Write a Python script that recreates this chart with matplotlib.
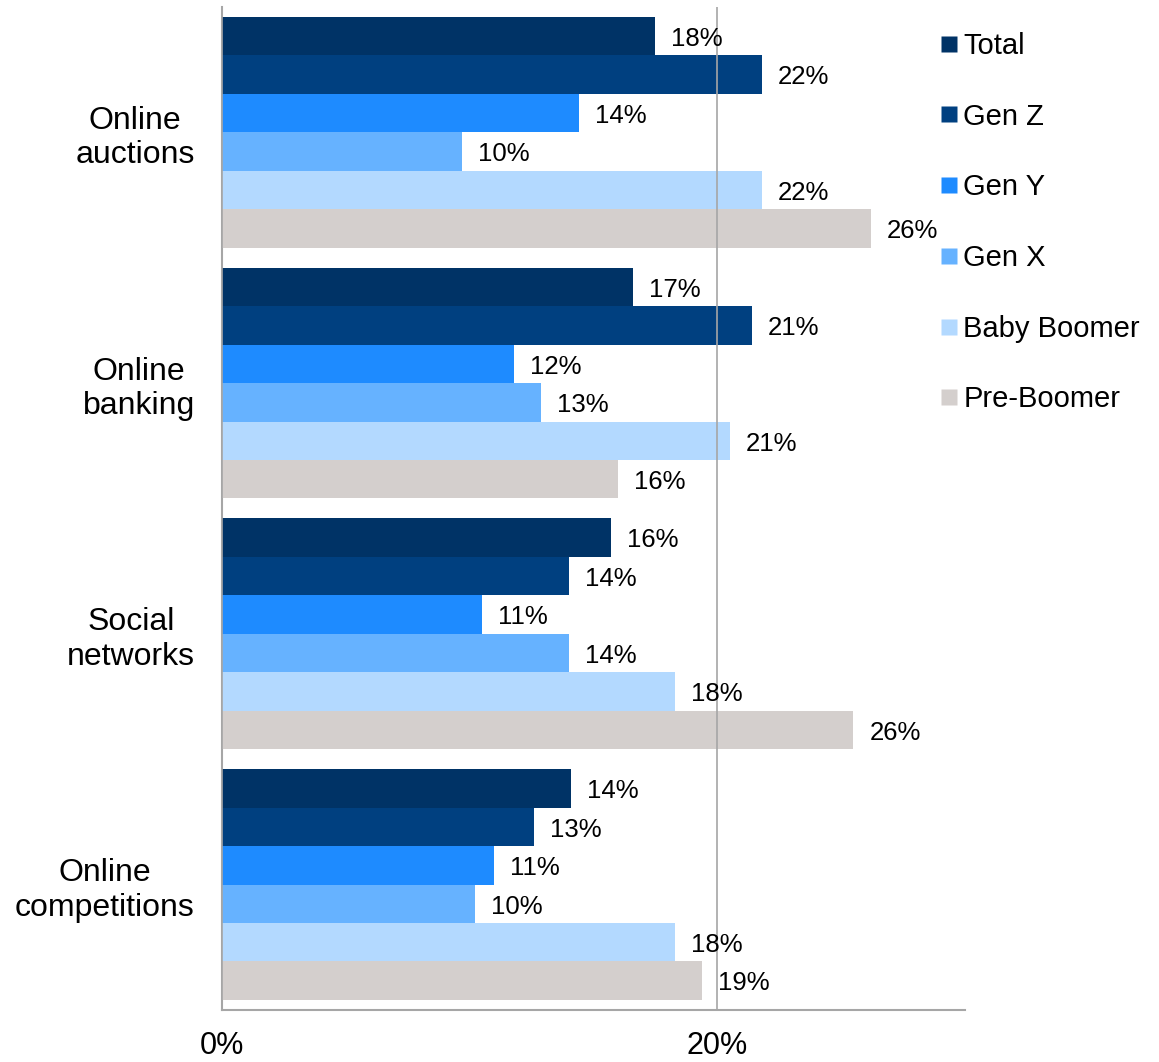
import matplotlib
matplotlib.use("Agg")
import matplotlib.pyplot as plt
from matplotlib.lines import Line2D
import numpy as np

categories = ["Online\nauctions", "Online\nbanking", "Social\nnetworks", "Online\ncompetitions"]
series = ["Total", "Gen Z", "Gen Y", "Gen X", "Baby Boomer", "Pre-Boomer"]
values = {
    "Total":       [17.5, 16.6, 15.7, 14.1],
    "Gen Z":       [21.8, 21.4, 14.0, 12.6],
    "Gen Y":       [14.4, 11.8, 10.5, 11.0],
    "Gen X":       [9.7, 12.9, 14.0, 10.2],
    "Baby Boomer": [21.8, 20.5, 18.3, 18.3],
    "Pre-Boomer":  [26.2, 16.0, 25.5, 19.4],
}
labels = {
    "Total":       ["18%", "17%", "16%", "14%"],
    "Gen Z":       ["22%", "21%", "14%", "13%"],
    "Gen Y":       ["14%", "12%", "11%", "11%"],
    "Gen X":       ["10%", "13%", "14%", "10%"],
    "Baby Boomer": ["22%", "21%", "18%", "18%"],
    "Pre-Boomer":  ["26%", "16%", "26%", "19%"],
}
colors = ["#003366", "#004080", "#1E8BFF", "#66B2FF", "#B3D9FF", "#D4CFCD"]
xticks = [0, 20]
xticklabels = ["0%", "20%"]

plt.rcParams['font.family'] = ['Liberation Sans', 'DejaVu Sans']

fig = plt.figure(figsize=(11.59, 10.62), dpi=100)
ax = fig.add_axes([0.1915, 0.049, 0.641, 0.9445])

n = len(series)
slot = 0.92
h = slot / n
ypos = np.arange(len(categories))
handles = []
for i, s in enumerate(series):
    y = ypos - slot / 2 + h * (i + 0.5)
    bars = ax.barh(y, values[s], height=h, color=colors[i], edgecolor='none', zorder=2)
    for b, lab in zip(bars, labels[s]):
        ax.annotate(lab, (b.get_width(), b.get_y() + b.get_height() / 2),
                    xytext=(11.5, -2), textcoords='offset points',
                    va='center', ha='left', fontsize=18.5, color='black', zorder=3,
                    family=['Liberation Sans', 'DejaVu Sans'])
    handles.append(Line2D([], [], marker='s', linestyle='none', markersize=11,
                          markerfacecolor=colors[i], markeredgecolor='none', label=s))

ax.set_ylim(len(categories) - 0.5, -0.5)
ax.set_xlim(0, 30)
ax.set_yticks(ypos)
ax.set_yticklabels(categories, fontsize=23, linespacing=1.2, ha='right', multialignment='center')
ax.tick_params(axis='y', length=0, pad=19.5)
ax.set_xticks(xticks)
ax.set_xticklabels(xticklabels, fontsize=22, family=['Liberation Sans Narrow', 'Liberation Sans'],
                   fontstretch='condensed')
ax.tick_params(axis='x', length=0, pad=15)
ax.grid(axis='x', color='#A6A6A6', linewidth=1.2, zorder=0)
ax.set_axisbelow(False)
for sp in ['top', 'right']:
    ax.spines[sp].set_visible(False)
for sp in ['left', 'bottom']:
    ax.spines[sp].set_color('#A6A6A6')
    ax.spines[sp].set_linewidth(1.5)
    ax.spines[sp].set_zorder(1)

fig.legend(handles=handles, loc='upper left', bbox_to_anchor=(0.8009, 0.981),
           frameon=False, fontsize=21, labelspacing=1.465, handletextpad=0.2,
           handlelength=0.6, borderaxespad=0)

fig.savefig("out.png", dpi=100)
